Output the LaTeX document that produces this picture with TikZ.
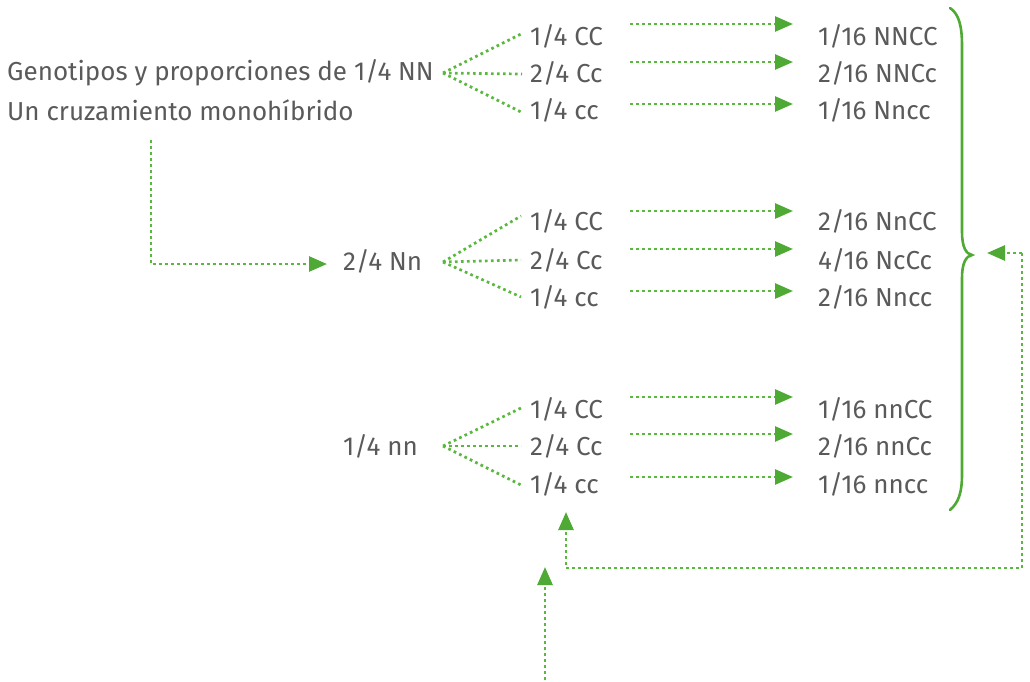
\documentclass[tikz,border=0pt]{standalone}
\usepackage{fontspec}
\setmainfont{Fira Sans}
\usetikzlibrary{arrows.meta}
\definecolor{txt}{HTML}{5A5A5A}
\definecolor{grn}{HTML}{4EAA34}
\definecolor{dotg}{HTML}{5BB83E}
\begin{document}
\begin{tikzpicture}[x=1pt,y=-1pt,
  lab/.style={anchor=west,inner sep=0pt,text=txt,font=\fontsize{26}{30}\selectfont},
  fan/.style={draw=dotg,line width=2.7pt,dash pattern=on 2.7pt off 3.3pt},
  arr/.style={draw=dotg,line width=2.7pt,dash pattern=on 2.7pt off 3.3pt,
    -{Triangle[length=18pt,width=15pt,fill=grn,color=grn]}},
  brace/.style={draw=grn,line width=2.6pt,line cap=round}]
\useasboundingbox (0,0) rectangle (1030,681);
% left titles
\node[lab] (t1) at (7,73) {Genotipos y proporciones de 1/4 NN};
\node[lab] (t2) at (7,110) {Un cruzamiento monohíbrido};
\node[lab] (p2) at (343,261) {2/4 Nn};
\node[lab] (p3) at (343,446) {1/4 nn};
% middle column
\node[lab] (a1) at (530,36) {1/4 CC};
\node[lab] (a2) at (530,73) {2/4 Cc};
\node[lab] (a3) at (530,110) {1/4 cc};
\node[lab] (b1) at (530,221) {1/4 CC};
\node[lab] (b2) at (530,260) {2/4 Cc};
\node[lab] (b3) at (530,297) {1/4 cc};
\node[lab] (c1) at (530,409) {1/4 CC};
\node[lab] (c2) at (530,446) {2/4 Cc};
\node[lab] (c3) at (530,484) {1/4 cc};
% right column
\node[lab] (r11) at (818,36) {1/16 NNCC};
\node[lab] (r12) at (818,73) {2/16 NNCc};
\node[lab] (r13) at (818,110) {1/16 Nncc};
\node[lab] (r21) at (818,221) {2/16 NnCC};
\node[lab] (r22) at (818,260) {4/16 NcCc};
\node[lab] (r23) at (818,297) {2/16 Nncc};
\node[lab] (r31) at (818,409) {1/16 nnCC};
\node[lab] (r32) at (818,446) {2/16 nnCc};
\node[lab] (r33) at (818,484) {1/16 nncc};
% fan origins
\coordinate (f1) at (443,73);
\coordinate (f2) at (443,262);
\coordinate (f3) at (443,446);
\draw[fan] (f1) -- ([xshift=-9pt,yshift=2pt]a1.west);
\draw[fan] (f1) -- ([xshift=-8pt,yshift=-1pt]a2.west);
\draw[fan] (f1) -- ([xshift=-9pt,yshift=-2pt]a3.west);
\draw[fan] (f2) -- ([xshift=-9pt,yshift=5pt]b1.west);
\draw[fan] (f2) -- ([xshift=-9pt]b2.west);
\draw[fan] (f2) -- ([xshift=-9pt]b3.west);
\draw[fan] (f3) -- ([xshift=-9pt,yshift=1pt]c1.west);
\draw[fan] (f3) -- ([xshift=-9pt]c2.west);
\draw[fan] (f3) -- ([xshift=-9pt,yshift=-1pt]c3.west);
% horizontal arrows
\foreach \n/\y in {a1/24,a2/62,a3/104,b1/211,b2/249,b3/291,c1/397,c2/434,c3/477}{
  \coordinate (s\n) at (630,\y);
  \coordinate (e\n) at (793,\y);
  \draw[arr] (s\n) -- (e\n);
}
% L connector
\coordinate (l1) at (151,140);
\coordinate (l2) at (327,264);
\draw[arr] (l1) |- (l2);
% brace
\coordinate (bt) at (950,8);
\coordinate (bm) at (972,255);
\coordinate (bb) at (950,510);
\draw[brace] (bt) .. controls (959,14) and (962,26) .. (962,46) -- (962,232)
  .. controls (962,247) and (966,254) .. (bm)
  .. controls (966,256) and (962,263) .. (962,278) -- (962,474)
  .. controls (962,494) and (958,503) .. (bb);
% feedback connector
\coordinate (q1) at (1022,253);
\coordinate (q2) at (987,253);
\coordinate (q3) at (566,512);
\draw[arr] (q1) -- (q2);
\draw[arr] (q1) -- (1022,568) -- (566,568) -- (q3);
% bottom arrow
\coordinate (u1) at (545,680);
\coordinate (u2) at (545,567);
\draw[arr] (u1) -- (u2);
\end{tikzpicture}
\end{document}
